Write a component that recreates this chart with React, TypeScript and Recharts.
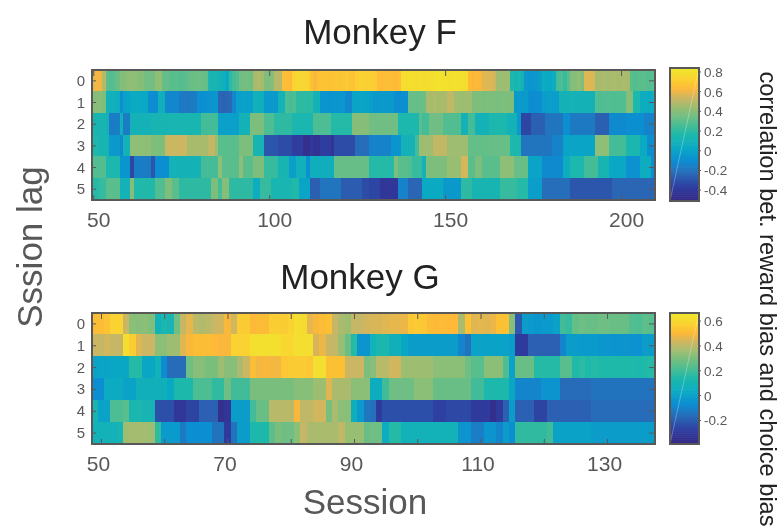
import React from "react";
import { BarChart, Bar, Cell, XAxis, YAxis, LineChart, Line, ReferenceArea } from "recharts";

const FONT = "'Liberation Sans', Arial, sans-serif";
const GRAY = "#585858";

const sessionsF = Array.from({ length: 160 }, (_, i) => 50 + i);
const sessionsG = Array.from({ length: 89 }, (_, i) => 49 + i);
const ticksF = [50, 100, 150, 200];
const ticksG = [50, 60, 70, 80, 90, 100, 110, 120, 130];
const labelledG = [50, 70, 90, 110, 130];
const lagTicks = [0.5, 1.5, 2.5, 3.5, 4.5, 5.5];
const barTicksF = [0.8, 0.6, 0.4, 0.2, 0, -0.2, -0.4];
const barTicksG = [0.6, 0.4, 0.2, 0, -0.2];

const f0 = [.58,.62,.6,.5,.3,.28,.3,.33,.4,.4,
.42,.42,.42,.4,.4,.36,.35,.36,.42,.42,
.32,.32,.3,.3,.3,.28,.3,.32,.33,.34,
.34,.33,.32,.14,.12,.12,.1,.08,.03,.2,
.25,.28,.35,.36,.36,.34,.47,.48,.47,.38,
.38,.4,.5,.5,.66,.66,.64,.74,.76,.76,
.76,.74,.67,.63,.67,.68,.68,.67,.68,.69,
.68,.69,.7,.69,.68,.72,.73,.73,.72,.72,
.71,.66,.65,.66,.66,.65,.64,.66,.8,.79,
.8,.78,.79,.8,.78,.79,.8,.8,.82,.82,
.82,.8,.81,.82,.8,.8,.79,.65,.63,.64,
.63,.58,.57,.57,.55,.45,.44,.45,.45,.15,
.12,.14,.1,-.05,-.07,-.06,-.05,-.03,.05,.03,
.02,.05,.25,.27,.22,.3,.4,.4,.42,.38,
.57,.58,.57,.46,.47,.48,.46,.47,.48,.47,
.47,.48,.47,.3,.28,.3,.3,.3,.28,.3];
const f1 = [.4,.4,.4,.38,.08,.08,.08,.06,-.1,-.01,
0,.03,.03,.03,.02,.02,-.1,-.11,-.1,.08,
.07,-.13,-.14,-.13,-.13,-.18,-.18,-.19,-.18,-.17,
-.1,-.1,-.09,-.08,-.07,-.07,-.25,-.26,-.25,-.24,
-.13,-.02,-.02,-.01,-.02,-.02,.08,.08,.07,-.05,
-.05,-.04,-.05,.1,.1,.27,.26,.27,.2,.2,
.2,.19,.2,.1,.1,-.07,-.07,-.08,-.07,-.07,
-.06,-.06,-.12,-.13,0,0,.01,0,0,-.03,
-.05,-.05,-.04,-.05,-.05,-.05,-.1,-.11,-.1,-.1,
.33,.33,.32,.33,.34,.47,.47,.48,.47,.47,
.47,.52,.52,.45,.45,.44,.45,.45,.38,.38,
.38,.37,.38,.38,.38,.37,.38,.38,.38,.38,
-.05,-.04,-.05,-.04,-.1,-.11,-.1,-.1,-.03,-.03,
-.02,-.03,-.03,.1,.1,.1,.11,.1,.1,.1,
.1,.11,.1,.28,.27,.28,.28,.28,.27,.28,
.28,.28,.4,.4,.15,.15,.05,.05,.04,.05];
const f2 = [.12,.12,.12,.12,.1,-.17,-.17,-.16,.08,-.17,
-.17,.1,.1,.1,.1,.1,.1,.12,.12,.12,
.12,.12,.13,.13,.13,.13,.13,.13,.13,.13,
.13,.25,.25,.25,.25,.25,-.02,-.02,-.02,-.02,
-.02,-.02,.1,.1,.1,.38,.38,.38,.38,.27,
.27,.27,.2,.2,.2,.2,.2,.14,.14,.14,
.14,.14,.14,.27,.27,.27,.27,.27,.18,.18,
.18,.18,.18,.18,.4,.4,.4,.4,.4,.35,
.35,.35,.35,.35,.35,.35,.35,.15,.15,.15,
.15,.15,.15,.3,.25,.25,.35,.35,.35,.35,
.28,.28,.28,.28,.28,.1,.1,.25,.25,.1,
.1,.1,.1,.15,.15,.15,.15,.15,.1,.1,
.1,-.05,-.35,-.35,-.35,-.27,-.27,-.27,-.27,-.2,
-.2,-.2,-.2,-.2,-.1,-.1,-.18,-.18,-.18,-.18,
-.18,-.18,-.18,-.27,-.27,-.27,-.27,-.12,-.12,-.12,
-.12,-.12,-.1,-.1,-.1,-.1,-.1,-.15,-.15,-.15];
const f3 = [.15,.15,.12,.12,.12,-.05,-.05,-.05,-.12,.1,
.1,.42,.42,.42,.42,.42,.42,.38,.38,.38,
.38,.54,.54,.54,.54,.54,.54,.47,.47,.47,
.47,.47,.47,.52,.52,.44,.3,.3,.3,.3,
.3,.3,.38,.38,.38,.38,.12,.12,.12,-.3,
-.3,-.3,-.3,-.33,-.33,-.33,-.33,-.38,-.38,-.38,
-.47,-.47,-.4,-.45,-.45,-.38,-.38,-.38,-.45,-.33,
-.33,-.33,-.33,-.33,-.33,-.22,-.22,-.22,-.22,-.15,
-.15,-.15,-.15,-.15,-.15,-.07,-.07,-.07,.1,.1,
.1,.1,.25,.45,.45,.45,.45,.52,.52,.52,
.52,.45,.45,.45,.45,.45,.45,.32,.32,.32,
.32,.32,.32,.33,.33,.33,.33,.33,.33,.15,
.15,.15,-.2,-.2,-.2,-.2,-.2,-.2,-.2,-.2,
-.2,-.15,-.15,-.15,0,0,0,0,0,0,
0,0,0,.42,.42,.42,.42,.25,.25,.25,
.25,.25,.14,.14,.14,.14,.03,.03,-.1,-.1];
const f4 = [.28,.28,.28,.28,.15,.15,.15,.15,-.07,-.07,
-.07,-.35,-.17,-.17,-.17,-.17,-.17,-.3,-.1,-.1,
-.1,-.1,.1,.1,.1,.1,.1,.1,.1,.1,
.1,.25,.25,.25,.25,.25,.42,.3,.3,.3,
.3,.3,.42,.3,.3,.3,.38,.38,.38,.22,
.22,.22,.22,.12,.12,.12,-.03,-.03,.08,.08,
.08,-.1,.07,.07,.07,.07,.07,.07,.07,.33,
.33,.33,.33,.33,.33,.33,.33,.33,.33,.18,
.18,.18,.18,.18,.18,.18,.38,.3,.3,.3,
.28,.22,.22,.22,.1,.38,.38,.38,.38,.38,
.38,.44,.44,.44,.44,.56,.56,.3,.3,.38,
.38,.3,.3,.3,.3,.3,.42,.42,.42,.42,
.33,.33,.33,.33,0,0,0,0,-.12,-.12,
-.12,-.12,-.12,-.12,.05,.05,.15,.15,.15,.15,
.25,.25,.25,.25,.12,.12,.12,.02,.02,.02,
.02,.02,-.08,-.08,-.08,-.08,.05,.05,.05,-.1];
const f5 = [.18,.18,.22,.22,.3,.3,.3,.3,.1,.1,
.1,.4,.17,.17,.17,.17,.17,.17,.28,.28,
.28,.38,.38,.3,.3,.2,.2,.2,.2,.2,
.2,.2,.2,.2,.38,.38,.25,.4,.4,.2,
.2,.2,.2,.2,.2,.2,.05,.05,.22,.22,
.22,.13,.13,.13,.13,.13,.13,.17,.17,0,
0,0,-.27,-.27,-.27,-.2,-.2,-.2,-.2,-.2,
-.2,-.28,-.28,-.28,-.28,-.28,-.28,-.33,-.33,-.35,
-.35,-.35,-.42,-.42,-.42,-.42,-.42,-.15,-.15,-.15,
-.25,-.25,-.25,-.25,.03,.03,.03,.03,.03,.03,
-.05,-.05,-.05,-.05,-.05,.2,.2,.2,.12,.12,
.12,.12,.12,.12,.12,.12,.22,.22,.22,.22,
.22,.18,.18,.18,-.03,-.03,-.03,-.03,-.22,-.22,
-.22,-.22,-.22,-.22,-.22,-.22,-.3,-.3,-.3,-.3,
-.3,-.3,-.3,-.3,-.3,-.3,-.3,-.3,-.25,-.25,
-.25,-.25,-.25,-.25,-.25,-.25,-.25,-.25,-.25,-.25];

const g0 = [.52,.52,.54,.58,.58,.43,.33,.32,.33,.31,
.08,.12,.1,.28,.42,.47,.4,.39,.4,.43,
.44,.5,.44,.56,.56,.51,.52,.52,.57,.57,
.56,.58,.63,.62,.47,.5,.52,.53,.42,.38,
.36,.42,.42,.44,.45,.45,.46,.47,.47,.48,
.55,.56,.55,.52,.51,.52,.51,.51,.38,.53,
.46,.47,.46,.48,.53,.53,.32,-.22,-.02,-.03,
-.04,-.03,-.03,0,.2,.18,.26,.28,.27,.27,
.28,.28,.27,.27,.27,.23,.22,.25,.24];
const g1 = [.43,.42,.44,.42,.42,.63,.57,.46,.43,.43,
.33,.33,.36,.36,.46,.5,.52,.52,.52,.51,
.5,.5,.58,.58,.58,.63,.63,.64,.64,.64,
.6,.6,.63,.63,.63,.45,.48,.42,.42,.35,
.27,.15,-.05,-.05,.08,.12,.12,.07,.07,.02,
-.02,-.02,-.02,-.02,-.02,-.02,-.02,-.02,-.1,-.15,
0,0,0,0,0,0,-.02,-.3,-.3,-.2,
-.2,-.2,-.2,-.2,-.1,-.02,-.02,-.03,-.03,-.03,
-.04,-.04,-.05,-.05,-.05,-.06,-.06,-.02,-.02];
const g2 = [0,.01,.01,.02,.02,.02,.15,.15,.02,.02,
.08,-.08,-.17,-.17,-.17,.28,.32,.32,.3,.3,
.36,.32,.32,.38,.43,.52,.49,.5,.49,.49,
.55,.56,.56,.56,.55,.63,.63,.53,.53,.53,
.43,.43,.43,.3,.32,.4,.4,.44,.44,.36,
.36,.36,.36,.36,.33,.33,.33,.33,.33,.28,
.24,.24,.33,.33,.33,.22,0,.27,.27,.27,
.15,.15,.15,.15,.24,.24,.14,.16,.14,.15,
.14,.14,.14,.14,.14,.14,.13,.14,.15];
const g3 = [-.07,-.07,.04,.04,.04,0,0,.07,.07,.07,
.07,.07,.03,.13,.13,.13,.22,.22,.22,.17,
.17,.28,.2,.2,.2,.3,.3,.3,.3,.3,
.3,.3,.32,.32,.32,.36,.36,.46,.38,.38,
.38,.33,.33,.33,.05,.05,.2,.28,.28,.28,
.28,.33,.33,.33,.27,.27,.27,.27,.27,.27,
.2,.2,.13,.13,.13,.13,.02,-.1,-.1,-.1,
-.1,-.05,-.05,-.05,-.17,-.17,-.17,-.17,-.17,-.15,
-.15,-.15,-.15,-.15,-.15,-.15,-.15,-.15,-.15];
const g4 = [.1,0,0,.22,.22,.24,.12,.12,.1,.1,
-.24,-.24,-.24,-.32,-.32,-.27,-.27,-.2,-.2,-.2,
-.36,-.33,-.02,-.02,-.02,.2,.27,.27,.4,.4,
.4,.4,.5,.41,.41,.44,.44,.3,.38,.33,
.33,.06,-.03,-.14,-.16,-.3,-.24,-.24,-.24,-.24,
-.24,-.24,-.24,-.24,-.28,-.28,-.26,-.26,-.26,-.26,
-.3,-.3,-.3,-.37,-.3,-.2,-.02,-.2,-.2,-.2,
-.27,-.27,-.2,-.2,-.2,-.2,-.2,-.2,-.2,-.17,
-.17,-.17,-.17,-.17,-.17,-.17,-.17,-.17,-.17];
const g5 = [.08,.08,.08,.08,.1,.36,.37,.37,.37,.36,
.17,-.03,-.03,-.03,-.13,-.07,-.07,-.07,-.07,-.15,
-.15,-.3,-.15,-.02,-.02,.13,.13,.13,.25,.3,
.28,.28,.33,.42,.38,.38,.38,.38,.38,.41,
.35,.35,.35,.27,.28,.28,.05,.15,.15,.08,
.08,.08,.08,.08,.08,.08,.08,.08,-.05,-.05,
-.12,-.12,-.05,-.05,-.1,-.02,-.07,.17,.17,.17,
.17,.17,.2,0,0,0,0,0,0,-.02,
-.02,-.02,-.02,-.02,-.02,-.02,-.02,-.02,-.02];

const stops: number[][] = [
  [0, 53, 42, 135], [0.1, 46, 62, 160], [0.2, 42, 105, 182], [0.3, 12, 142, 210],
  [0.4, 10, 170, 195], [0.5, 30, 185, 170], [0.6, 90, 190, 140], [0.7, 150, 190, 115],
  [0.78, 205, 182, 98], [0.85, 253, 184, 55], [0.92, 250, 210, 50], [1, 240, 230, 45],
];

function ramp(t: number) {
  const c = Math.max(0, Math.min(1, t));
  for (let i = 1; i < stops.length; i++) {
    if (c <= stops[i][0]) {
      const a = stops[i - 1];
      const b = stops[i];
      const u = (c - a[0]) / (b[0] - a[0]);
      return `rgb(${[1, 2, 3].map((k) => Math.round(a[k] + (b[k] - a[k]) * u)).join(",")})`;
    }
  }
  return "rgb(240,230,45)";
}

const lagKeys = ["lag0", "lag1", "lag2", "lag3", "lag4", "lag5"];

function Frame(props: any) {
  const { left, top, width, height } = props;
  return (
    <div
      style={{
        position: "absolute",
        boxSizing: "border-box",
        left: left - 1,
        top: top - 1,
        width: width + 2,
        height: height + 2,
        border: `2px solid ${GRAY}`,
        pointerEvents: "none",
      }}
    />
  );
}

function Heat(props: any) {
  const { sessions, rows, min, max, top, plotH, xTicks, labelled, labelDx } = props;
  const left = 92;
  const plotW = 563;
  const data = sessions.map((s: number) => {
    const row: any = { session: s };
    lagKeys.forEach((k) => (row[k] = 1));
    return row;
  });
  const xTick = (p: any) => {
    const v = p.payload.value;
    return (
      <g>
        <line x1={p.x} x2={p.x} y1={top + plotH - 5} y2={top + plotH} stroke={GRAY} strokeWidth={1} />
        <line x1={p.x} x2={p.x} y1={top} y2={top + 6} stroke={GRAY} strokeWidth={1} />
        {labelled.includes(v) ? (
          <text x={p.x + labelDx} y={top + plotH + 27} textAnchor="middle" fontSize={21} fill={GRAY} fontFamily={FONT}>
            {v}
          </text>
        ) : null}
      </g>
    );
  };
  const yTick = (p: any) => (
    <g>
      <line x1={left} x2={left + 4} y1={p.y} y2={p.y} stroke={GRAY} strokeWidth={1} />
      <line x1={left + plotW - 6} x2={left + plotW} y1={p.y} y2={p.y} stroke={GRAY} strokeWidth={1} />
      <text x={81} y={p.y + 5} textAnchor="middle" fontSize={15} fill={GRAY} fontFamily={FONT}>
        {Math.floor(p.payload.value)}
      </text>
    </g>
  );
  return (
    <div style={{ position: "absolute", left: 0, top: 0 }}>
      <BarChart
        width={783}
        height={top + plotH + 45}
        data={data}
        margin={{ top, right: 783 - left - plotW, bottom: 0, left: 40 }}
        barCategoryGap={0}
        barGap={0}
      >
        {lagKeys.map((k, r) => (
          <Bar key={k} dataKey={k} stackId="heat" isAnimationActive={false}>
            {sessions.map((s: number, i: number) => {
              const c = ramp((rows[r][i] - min) / (max - min));
              return <Cell key={s} fill={c} stroke={c} strokeWidth={1} shapeRendering="crispEdges" />;
            })}
          </Bar>
        ))}
        <XAxis dataKey="session" type="category" height={45} ticks={xTicks} interval={0} tickLine={false} tickSize={0} axisLine={false} tick={xTick} />
        <YAxis type="number" width={52} domain={[0, 6]} reversed ticks={lagTicks} interval={0} tickLine={false} tickSize={0} axisLine={false} tick={yTick} />
      </BarChart>
      <Frame left={left} top={top} width={plotW} height={plotH} />
    </div>
  );
}

function ColorBar(props: any) {
  const { min, max, top, plotH, ticks } = props;
  const levels = Array.from({ length: 64 }, (_, i) => i);
  const step = (max - min) / 64;
  const left = 670;
  const plotW = 29;
  const yTick = (p: any) => (
    <g>
      <line x1={left + plotW} x2={left + plotW + 2} y1={p.y} y2={p.y} stroke={GRAY} strokeWidth={1} />
      <text x={704} y={p.y + 5} textAnchor="start" fontSize={13.5} fill={GRAY} fontFamily={FONT}>
        {p.payload.value}
      </text>
    </g>
  );
  return (
    <div style={{ position: "absolute", left: 0, top: 0 }}>
      <LineChart
        width={783}
        height={top + plotH + 10}
        data={[{ x: 0, y: min }, { x: 1, y: max }]}
        margin={{ top, right: 0, bottom: 10, left }}
      >
        <XAxis dataKey="x" type="number" domain={[0, 1]} hide />
        <YAxis type="number" dataKey="y" orientation="right" width={783 - left - plotW} domain={[min, max]} ticks={ticks} interval={0} tickLine={false} axisLine={false} tick={yTick} />
        {levels.map((i) => (
          <ReferenceArea
            key={i}
            y1={min + i * step}
            y2={Math.min(max, min + (i + 1.3) * step)}
            fill={ramp(i / 63)}
            fillOpacity={1}
            stroke="none"
            ifOverflow="visible"
          />
        ))}
        <Line dataKey="y" stroke="#ffffff" strokeOpacity={0.28} strokeWidth={1} dot={false} isAnimationActive={false} />
      </LineChart>
      <Frame left={left} top={top} width={plotW} height={plotH} />
    </div>
  );
}

function Txt(props: any) {
  const { x, y, size, color, rotate, children } = props;
  return (
    <div
      style={{
        position: "absolute",
        left: x,
        top: y,
        transform: `translate(-50%, -50%)${rotate ? ` rotate(${rotate}deg)` : ""}`,
        fontFamily: FONT,
        fontSize: size,
        color,
        whiteSpace: "nowrap",
        lineHeight: 1,
      }}
    >
      {children}
    </div>
  );
}

export default function App() {
  return (
    <div style={{ position: "absolute", left: 0, top: 0, width: 783, height: 527, background: "#fff", overflow: "hidden", filter: "blur(0.45px)" }}>
      <Heat sessions={sessionsF} rows={[f0, f1, f2, f3, f4, f5]} min={-0.51} max={0.84} top={70} plotH={130} xTicks={ticksF} labelled={ticksF} labelDx={5} />
      <Heat sessions={sessionsG} rows={[g0, g1, g2, g3, g4, g5]} min={-0.39} max={0.665} top={313} plotH={131} xTicks={ticksG} labelled={labelledG} labelDx={-3} />
      <ColorBar min={-0.51} max={0.84} top={68} plotH={133} ticks={barTicksF} />
      <ColorBar min={-0.39} max={0.665} top={313} plotH={131} ticks={barTicksG} />
      <Txt x={380} y={31} size={35} color="#222">Monkey F</Txt>
      <Txt x={360} y={276} size={35} color="#222">Monkey G</Txt>
      <Txt x={365} y={501} size={35} color={GRAY}>Session</Txt>
      <Txt x={29} y={247} size={35} color={GRAY} rotate={-90}>Sssion lag</Txt>
      <Txt x={767} y={299} size={23.6} color="#222" rotate={90}>correlation bet. reward bias and choice bias</Txt>
    </div>
  );
}
